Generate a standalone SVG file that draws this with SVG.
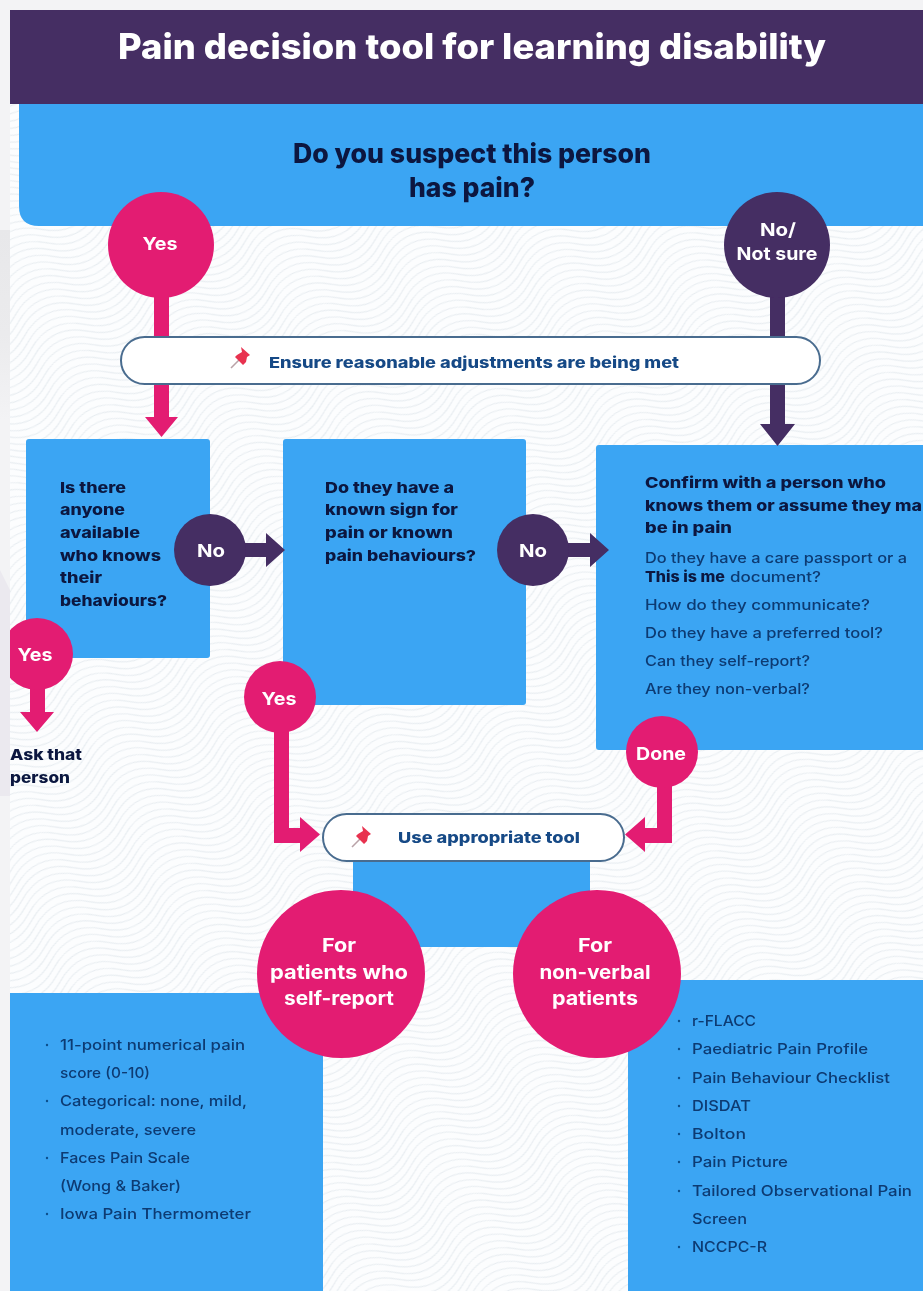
<svg xmlns="http://www.w3.org/2000/svg" width="923" height="1291" viewBox="0 0 923 1291">
<style>
text{font-family:"Inter","Liberation Sans",sans-serif}
.b{fill:#3ba5f3}
.pk{fill:#e31b72}
.pu{fill:#452d63}
.w{fill:#fff;font-weight:700;font-size:18px;text-anchor:middle}
.w2{fill:#fff;font-weight:700;font-size:19px;text-anchor:middle}
.h{fill:#07193f;font-weight:800;font-size:15px}
.t{fill:#0e3a72;font-weight:500;font-size:14px}
.tw{fill:#0e3a72;font-weight:500;font-size:14.5px}
.dot{fill:#0e4f8c}
.pill{fill:#fff;stroke:#4a6c8f;stroke-width:2}
.pl{fill:#164a86;font-weight:800;font-size:15px}
.q{fill:#07193f;font-weight:800;font-size:27px;text-anchor:middle}
</style>
<defs>
<pattern id="wave" width="120" height="30" patternUnits="userSpaceOnUse" patternTransform="rotate(-25)">
<path d="M0 -15Q30 -37 60 -15T120 -15M0 -7.500Q30 -29.500 60 -7.500T120 -7.500M0 0Q30 -22 60 0T120 0M0 7.500Q30 -14.500 60 7.500T120 7.500M0 15Q30 -7 60 15T120 15M0 22.500Q30 .5 60 22.500T120 22.500M0 30Q30 8 60 30T120 30M0 37.500Q30 15.500 60 37.500T120 37.500M0 45Q30 23 60 45T120 45" fill="none" stroke="#e8edf1" stroke-width="1.1"/>
</pattern>
<linearGradient id="fade" x1="0" y1="0" x2="0" y2="1"><stop offset="0" stop-color="#e8e8ea"/><stop offset="0.55" stop-color="#ebebed"/><stop offset="1" stop-color="#f3f3f5"/></linearGradient>
<clipPath id="page"><rect x="10" y="10" width="913" height="1281"/></clipPath>
<filter id="soft" x="-2%" y="-2%" width="104%" height="104%"><feGaussianBlur stdDeviation="0.5"/></filter>
<g id="pin"><path d="M-9 10L-1 2" stroke="#b9a3a8" stroke-width="1.6" fill="none"/><path d="M1 -11L10 -3L7 -1L6 4L3 7L-5 -1L-3 -3L2 -6Z" fill="#e8304f"/></g>
</defs>
<rect width="923" height="1291" fill="#f3f3f5"/>
<rect x="0" y="230" width="10" height="190" fill="url(#fade)"/>
<path d="M0 570L10 590V796H0Z" fill="#ebe9ef"/>
<g clip-path="url(#page)" filter="url(#soft)">
<rect x="10" y="10" width="913" height="1281" fill="#fcfdfe"/>
<rect x="10" y="10" width="913" height="1281" fill="url(#wave)"/>
<g id="boxes">
<path id="question-panel" class="b" d="M19 104H923V226H39Q19 226 19 206Z"/>
<rect id="box-anyone" class="b" x="26" y="439" width="184" height="219" rx="3"/>
<rect id="box-known" class="b" x="283" y="439" width="243" height="266" rx="3"/>
<rect id="box-confirm" class="b" x="596" y="445" width="340" height="305" rx="3"/>
<rect id="box-tool" class="b" x="353" y="855" width="237" height="92"/>
<rect id="box-self" class="b" x="10" y="993" width="313" height="298"/>
<rect id="box-nonverbal" class="b" x="628" y="980" width="295" height="311"/>
</g>
<g id="connectors">
<path class="pk" d="M154 290H169V417H178L161.500 437L145 417H154Z"/>
<path class="pu" d="M770 290H785V424H795L777.500 446L760 424H770Z"/>
<path class="pu" d="M240 543H266V533L285 550L266 567V557H240Z"/>
<path class="pu" d="M564 543H590V533L609 550L590 567V557H564Z"/>
<path class="pk" d="M30 680H45V712H54L37 732L20 712H30Z"/>
<path class="pk" d="M274 725H289V828H300V817L320 834.500L300 852V843H274Z"/>
<path class="pk" d="M657 780H672V843H645V852L625 834.500L645 817V828H657Z"/>
</g>
<g id="header"><rect class="pu" x="10" y="10" width="913" height="94"/>
<text x="118" y="59" fill="#fff" font-weight="800" font-size="35" textLength="708" lengthAdjust="spacingAndGlyphs">Pain decision tool for learning disability</text></g>
<g id="question"><text class="q" x="472" y="163" textLength="358" lengthAdjust="spacingAndGlyphs">Do you suspect this person</text><text class="q" x="472" y="197" textLength="126" lengthAdjust="spacingAndGlyphs">has pain?</text></g>
<g id="node-yes-1"><circle class="pk" cx="161" cy="245" r="53"/><text class="w" x="160" y="250" textLength="35" lengthAdjust="spacingAndGlyphs">Yes</text></g>
<g id="node-no-sure"><circle class="pu" cx="777" cy="245" r="53"/><text class="w" x="778" y="236" textLength="36" lengthAdjust="spacingAndGlyphs">No/</text><text class="w" x="777" y="260" textLength="81" lengthAdjust="spacingAndGlyphs">Not sure</text></g>
<g id="node-adjustments"><rect class="pill" x="121" y="337" width="699" height="47" rx="23.500"/><use href="#pin" x="240" y="358"/><text class="pl" x="269" y="368" textLength="410" lengthAdjust="spacingAndGlyphs">Ensure reasonable adjustments are being met</text></g>
<g id="node-anyone">
<text class="h" x="60" y="493" textLength="66" lengthAdjust="spacingAndGlyphs">Is there</text>
<text class="h" x="60" y="515" textLength="65" lengthAdjust="spacingAndGlyphs">anyone</text>
<text class="h" x="60" y="538" textLength="80" lengthAdjust="spacingAndGlyphs">available</text>
<text class="h" x="60" y="561" textLength="101" lengthAdjust="spacingAndGlyphs">who knows</text>
<text class="h" x="60" y="583" textLength="42" lengthAdjust="spacingAndGlyphs">their</text>
<text class="h" x="60" y="606" textLength="107" lengthAdjust="spacingAndGlyphs">behaviours?</text>
</g>
<g id="node-no-1"><circle class="pu" cx="210" cy="550" r="36"/><text class="w" x="211" y="557" textLength="28" lengthAdjust="spacingAndGlyphs">No</text></g>
<g id="node-known">
<text class="h" x="325" y="493" textLength="129" lengthAdjust="spacingAndGlyphs">Do they have a</text>
<text class="h" x="325" y="515" textLength="133" lengthAdjust="spacingAndGlyphs">known sign for</text>
<text class="h" x="325" y="538" textLength="128" lengthAdjust="spacingAndGlyphs">pain or known</text>
<text class="h" x="325" y="561" textLength="151" lengthAdjust="spacingAndGlyphs">pain behaviours?</text>
</g>
<g id="node-no-2"><circle class="pu" cx="533" cy="550" r="36"/><text class="w" x="533" y="557" textLength="28" lengthAdjust="spacingAndGlyphs">No</text></g>
<g id="node-confirm">
<text class="h" x="645" y="488" textLength="241" lengthAdjust="spacingAndGlyphs">Confirm with a person who</text>
<text class="h" x="645" y="511" textLength="277" lengthAdjust="spacingAndGlyphs">knows them or assume they ma</text>
<text class="h" x="645" y="533" textLength="87" lengthAdjust="spacingAndGlyphs">be in pain</text>
<text class="t" x="645" y="563" textLength="262" lengthAdjust="spacingAndGlyphs">Do they have a care passport or a</text>
<text class="h" x="645" y="582" font-size="14" textLength="80" lengthAdjust="spacingAndGlyphs">This is me</text><text class="t" x="730" y="582" textLength="91" lengthAdjust="spacingAndGlyphs">document?</text>
<text class="t" x="645" y="610" textLength="225" lengthAdjust="spacingAndGlyphs">How do they communicate?</text>
<text class="t" x="645" y="638" textLength="238" lengthAdjust="spacingAndGlyphs">Do they have a preferred tool?</text>
<text class="t" x="645" y="666" textLength="165" lengthAdjust="spacingAndGlyphs">Can they self-report?</text>
<text class="t" x="645" y="694" textLength="165" lengthAdjust="spacingAndGlyphs">Are they non-verbal?</text>
</g>
<g id="node-yes-2"><circle class="pk" cx="37" cy="654" r="36"/><text class="w" x="35" y="661" textLength="35" lengthAdjust="spacingAndGlyphs">Yes</text></g>
<g id="node-ask"><text class="h" x="10" y="760" textLength="72" lengthAdjust="spacingAndGlyphs">Ask that</text><text class="h" x="10" y="783" textLength="60" lengthAdjust="spacingAndGlyphs">person</text></g>
<g id="node-yes-3"><circle class="pk" cx="280" cy="697" r="36"/><text class="w" x="279" y="705" textLength="35" lengthAdjust="spacingAndGlyphs">Yes</text></g>
<g id="node-done"><circle class="pk" cx="662" cy="752" r="36"/><text class="w" x="661" y="760" textLength="50" lengthAdjust="spacingAndGlyphs">Done</text></g>
<g id="node-tool"><rect class="pill" x="323" y="814" width="301" height="47" rx="23.500"/><use href="#pin" x="361" y="837"/><text class="pl" x="398" y="843" textLength="182" lengthAdjust="spacingAndGlyphs">Use appropriate tool</text></g>
<g id="node-self"><circle class="pk" cx="341" cy="974" r="84"/><text class="w2" x="339" y="952" textLength="34" lengthAdjust="spacingAndGlyphs">For</text><text class="w2" x="339" y="979" textLength="138" lengthAdjust="spacingAndGlyphs">patients who</text><text class="w2" x="339" y="1005" textLength="110" lengthAdjust="spacingAndGlyphs">self-report</text></g>
<g id="node-nonverbal"><circle class="pk" cx="597" cy="974" r="84"/><text class="w2" x="595" y="952" textLength="34" lengthAdjust="spacingAndGlyphs">For</text><text class="w2" x="595" y="979" textLength="111" lengthAdjust="spacingAndGlyphs">non-verbal</text><text class="w2" x="595" y="1005" textLength="86" lengthAdjust="spacingAndGlyphs">patients</text></g>
<g id="list-self">
<circle class="dot" cx="47" cy="1045" r="1.200"/><text class="tw" x="60" y="1050" textLength="185" lengthAdjust="spacingAndGlyphs">11-point numerical pain</text>
<text class="tw" x="60" y="1078" textLength="90" lengthAdjust="spacingAndGlyphs">score (0-10)</text>
<circle class="dot" cx="47" cy="1101" r="1.200"/><text class="tw" x="60" y="1106" textLength="187" lengthAdjust="spacingAndGlyphs">Categorical: none, mild,</text>
<text class="tw" x="60" y="1135" textLength="136" lengthAdjust="spacingAndGlyphs">moderate, severe</text>
<circle class="dot" cx="47" cy="1158" r="1.200"/><text class="tw" x="60" y="1163" textLength="130" lengthAdjust="spacingAndGlyphs">Faces Pain Scale</text>
<text class="tw" x="60" y="1191" textLength="121" lengthAdjust="spacingAndGlyphs">(Wong &amp; Baker)</text>
<circle class="dot" cx="47" cy="1214" r="1.200"/><text class="tw" x="60" y="1219" textLength="191" lengthAdjust="spacingAndGlyphs">Iowa Pain Thermometer</text>
</g>
<g id="list-nonverbal">
<circle class="dot" cx="679" cy="1021" r="1.200"/><text class="tw" x="692" y="1026" textLength="64" lengthAdjust="spacingAndGlyphs">r-FLACC</text>
<circle class="dot" cx="679" cy="1049" r="1.200"/><text class="tw" x="692" y="1054" textLength="176" lengthAdjust="spacingAndGlyphs">Paediatric Pain Profile</text>
<circle class="dot" cx="679" cy="1078" r="1.200"/><text class="tw" x="692" y="1083" textLength="198" lengthAdjust="spacingAndGlyphs">Pain Behaviour Checklist</text>
<circle class="dot" cx="679" cy="1106" r="1.200"/><text class="tw" x="692" y="1111" textLength="59" lengthAdjust="spacingAndGlyphs">DISDAT</text>
<circle class="dot" cx="679" cy="1134" r="1.200"/><text class="tw" x="692" y="1139" textLength="54" lengthAdjust="spacingAndGlyphs">Bolton</text>
<circle class="dot" cx="679" cy="1162" r="1.200"/><text class="tw" x="692" y="1167" textLength="96" lengthAdjust="spacingAndGlyphs">Pain Picture</text>
<circle class="dot" cx="679" cy="1191" r="1.200"/><text class="tw" x="692" y="1196" textLength="220" lengthAdjust="spacingAndGlyphs">Tailored Observational Pain</text>
<text class="tw" x="692" y="1224" textLength="55" lengthAdjust="spacingAndGlyphs">Screen</text>
<circle class="dot" cx="679" cy="1247" r="1.200"/><text class="tw" x="692" y="1252" textLength="75" lengthAdjust="spacingAndGlyphs">NCCPC-R</text>
</g>
</g>
</svg>
